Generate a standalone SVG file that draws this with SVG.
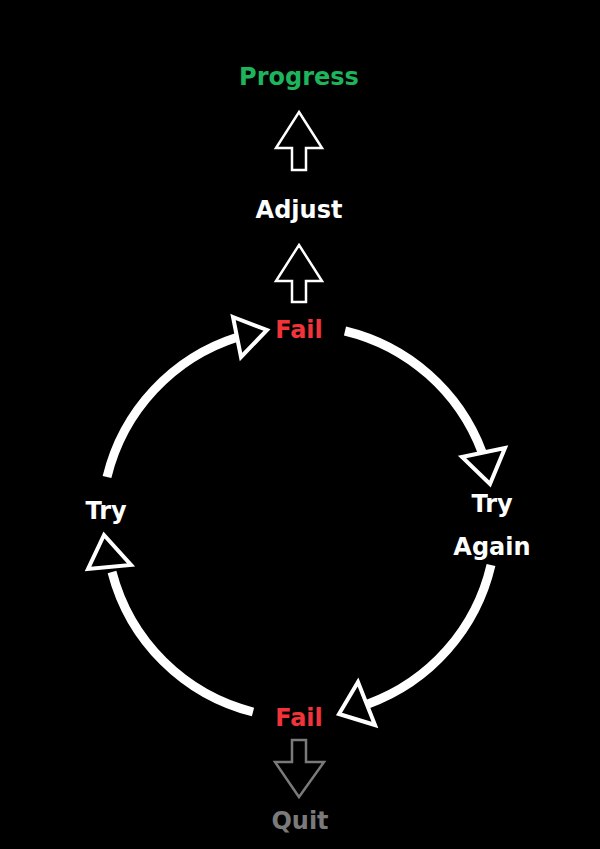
<svg xmlns="http://www.w3.org/2000/svg" width="600" height="849" viewBox="0 0 600 849">
<style>
text{font-family:"DejaVu Sans","Noto Sans",sans-serif;font-weight:bold;font-size:24px;text-anchor:middle}
.w{fill:#fff}.r{fill:#f2343a}.g{fill:#1db45c}.q{fill:#7a7a7a}
.arc{fill:none;stroke:#fff;stroke-width:9}
.tri{fill:#000;stroke:#fff;stroke-width:4;stroke-linejoin:miter}
.blk{fill:#000;stroke:#fff;stroke-width:2.5}
</style>
<rect width="600" height="849" fill="#000"/>
<g id="progress"><text class="g" x="299" y="85">Progress</text></g>
<g id="adjust"><text class="w" x="299" y="218">Adjust</text></g>
<g id="fail-top"><text class="r" x="299" y="338">Fail</text></g>
<g id="try-again"><text class="w" x="492" y="512">Try</text><text class="w" x="492" y="555">Again</text></g>
<g id="try"><text class="w" x="106" y="519">Try</text></g>
<g id="fail-bottom"><text class="r" x="299" y="726">Fail</text></g>
<g id="quit"><text class="q" x="300" y="829">Quit</text></g>
<g id="connectors">
<polygon class="blk" points="299,112 322,148 306,148 306,170 292,170 292,148 276,148"/>
<polygon class="blk" points="299,245 322,281 306,281 306,302 292,302 292,281 276,281"/>
<polygon class="blk" points="299,797 324,762 306,762 306,740 292,740 292,762 275,762" style="stroke:#7a7a7a"/>
<path class="arc" d="M345 331 A195 195 0 0 1 482 452"/>
<path class="arc" d="M491 565 A195 195 0 0 1 368 704"/>
<path class="arc" d="M253 712 A195 195 0 0 1 112 572"/>
<path class="arc" d="M107 477 A195 195 0 0 1 238 337"/>
<polygon class="tri" points="462,457 505,448 490,484"/>
<polygon class="tri" points="358,682 339,714 375,725"/>
<polygon class="tri" points="104,535 131,565 88,569"/>
<polygon class="tri" points="233,317 267,330 241,357"/>
</g>
</svg>
